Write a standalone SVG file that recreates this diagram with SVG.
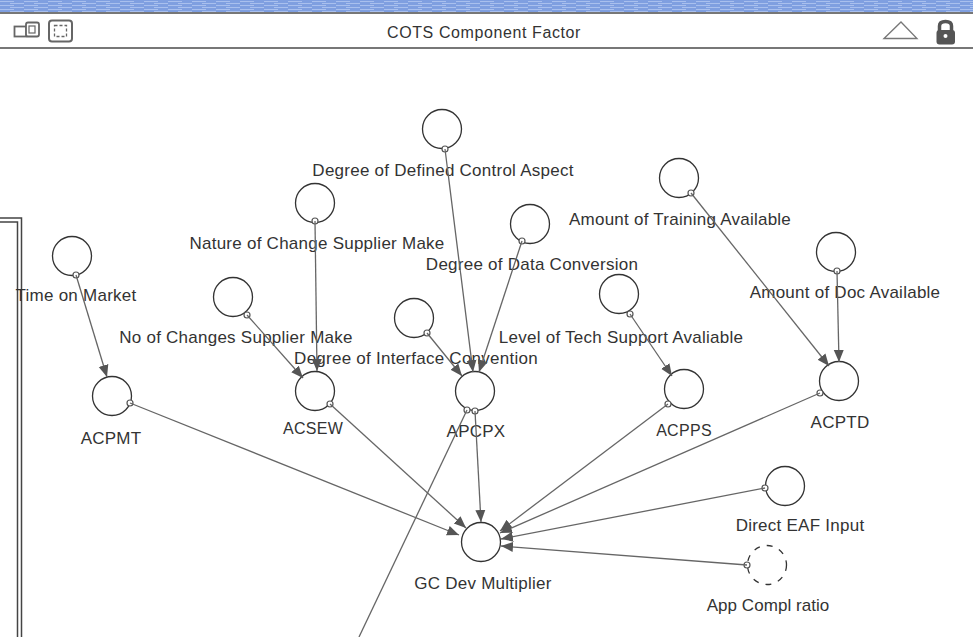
<svg xmlns="http://www.w3.org/2000/svg" width="973" height="637" viewBox="0 0 973 637">
<defs>
<pattern id="stripes" width="24" height="4" patternUnits="userSpaceOnUse"><rect width="24" height="4" fill="#7f9fe0"/><rect y="1" width="14" height="1" fill="#a9c0ee"/><rect x="10" y="3" width="14" height="1" fill="#a9c0ee"/></pattern>
<marker id="arrow" viewBox="0 0 12 12" refX="12" refY="6" markerWidth="12" markerHeight="12" markerUnits="userSpaceOnUse" orient="auto"><path d="M0 1L12 6L0 11Z" fill="#555"/></marker>
</defs>
<style>
text{font-family:"Liberation Sans",Arial,sans-serif;font-size:17px;letter-spacing:.25px;fill:#333;text-anchor:middle}
.caps{font-size:16px;letter-spacing:.3px}
.c{fill:#fff;stroke:#333;stroke-width:1.3}
.d{fill:#fff;stroke:#333;stroke-width:1.3;stroke-dasharray:6 7}
.h{fill:#fff;stroke:#555;stroke-width:1.2}
.l{fill:none;stroke:#666;stroke-width:1.3;marker-end:url(#arrow)}
.f{fill:none;stroke:#666;stroke-width:1.3}
</style>
<rect width="973" height="637" fill="#fff"/>
<g id="titlebar">
<rect width="973" height="12" fill="url(#stripes)"/>
<rect y="12" width="973" height="2" fill="#777"/>
<rect y="47" width="973" height="2" fill="#777"/>
<g fill="#fff" stroke="#666" stroke-width="1.8"><rect x="14.500" y="26.500" width="12" height="10"/><rect x="26" y="22.500" width="13" height="14" rx="2"/><rect x="29" y="26" width="6" height="7" stroke-width="1.200"/></g>
<rect x="49" y="20.500" width="23" height="21" rx="3" fill="#fff" stroke="#666" stroke-width="2"/>
<rect x="54.500" y="25.500" width="12" height="11" fill="none" stroke="#666" stroke-width="1.300" stroke-dasharray="3 2"/>
<text x="484" y="38" style="font-size:16px;letter-spacing:.6px">COTS Component Factor</text>
<path d="M884 38.500L901 22L917 38.500Z" fill="#fff" stroke="#777" stroke-width="1.300"/>
<path d="M939.500 31V26Q939.500 21.500 945.500 21.500Q951.500 21.500 951.500 26V31" fill="none" stroke="#555" stroke-width="3.500"/>
<rect x="936.500" y="30" width="18.500" height="14.500" rx="3" fill="#555"/>
<circle cx="945.500" cy="36" r="2" fill="#fff"/>
</g>
<g id="frame" fill="none" stroke="#444" stroke-width="1.500"><path d="M0 218H21.500V637"/><path d="M0 222H17.500V637"/></g>
<g id="n-defined-control"><circle class="c" cx="442" cy="129" r="19.500"/><circle class="h" cx="445" cy="149" r="3"/><text x="443" y="176">Degree of Defined Control Aspect</text></g>
<g id="n-nature"><circle class="c" cx="315" cy="203" r="19.500"/><circle class="h" cx="315" cy="221" r="3"/><text x="317" y="249">Nature of Change Supplier Make</text></g>
<g id="n-data-conv"><circle class="c" cx="530" cy="224" r="19.500"/><circle class="h" cx="522" cy="241" r="3"/><text x="532" y="270">Degree of Data Conversion</text></g>
<g id="n-training"><circle class="c" cx="679" cy="178" r="19.500"/><circle class="h" cx="691" cy="193" r="3"/><text x="680" y="225">Amount of Training Available</text></g>
<g id="n-doc"><circle class="c" cx="836" cy="252" r="19.500"/><circle class="h" cx="837" cy="271" r="3"/><text x="845" y="298">Amount of Doc Available</text></g>
<g id="n-market"><circle class="c" cx="72" cy="256" r="19.500"/><circle class="h" cx="76" cy="275" r="3"/><text x="76" y="301">Time on Market</text></g>
<g id="n-changes"><circle class="c" cx="233" cy="297" r="19.500"/><circle class="h" cx="247" cy="315" r="3"/><text x="236" y="343">No of Changes Supplier Make</text></g>
<g id="n-interface"><circle class="c" cx="414" cy="318" r="19.500"/><circle class="h" cx="427" cy="333" r="3"/><text x="416" y="364">Degree of Interface Convention</text></g>
<g id="n-tech"><circle class="c" cx="619" cy="294" r="19.500"/><circle class="h" cx="630" cy="314" r="3"/><text x="621" y="343">Level of Tech Support Avaliable</text></g>
<g id="n-acpmt"><circle class="c" cx="112" cy="396" r="19.500"/><circle class="h" cx="130" cy="403" r="3"/><text x="111" y="444">ACPMT</text></g>
<g id="n-acsew"><circle class="c" cx="315" cy="391" r="19.500"/><circle class="h" cx="330" cy="404" r="3"/><text class="caps" x="313" y="434">ACSEW</text></g>
<g id="n-apcpx"><circle class="c" cx="475" cy="391" r="19.500"/><circle class="h" cx="467" cy="410" r="3"/><circle class="h" cx="475" cy="411" r="3"/><text x="476" y="437">APCPX</text></g>
<g id="n-acpps"><circle class="c" cx="684" cy="389" r="19.500"/><circle class="h" cx="668" cy="404" r="3"/><text class="caps" x="684" y="436">ACPPS</text></g>
<g id="n-acptd"><circle class="c" cx="839" cy="381" r="19.500"/><circle class="h" cx="820" cy="393" r="3"/><text x="840" y="428">ACPTD</text></g>
<g id="n-eaf"><circle class="c" cx="785" cy="486" r="19.500"/><circle class="h" cx="765" cy="488" r="3"/><text x="800" y="531">Direct EAF Input</text></g>
<g id="n-compl"><circle class="d" cx="767" cy="565" r="19.500"/><circle class="h" cx="747" cy="565" r="3"/><text x="768" y="611" style="letter-spacing:.05px">App Compl ratio</text></g>
<g id="n-gc"><circle class="c" cx="481" cy="542" r="19.500"/><text x="483" y="589">GC Dev Multiplier</text></g>
<g id="connectors">
<path class="l" d="M445 149L473 372"/>
<path class="l" d="M315 221L317 371"/>
<path class="l" d="M522 241L479 372"/>
<path class="l" d="M691 193L829 366"/>
<path class="l" d="M837 271L839 362"/>
<path class="l" d="M76 275L107 377"/>
<path class="l" d="M247 315L303 378"/>
<path class="l" d="M427 333L462 376"/>
<path class="l" d="M630 314L672 376"/>
<path class="l" d="M130 403L459 535"/>
<path class="l" d="M330 404L466 528"/>
<path class="l" d="M475 411L481 522"/>
<path class="f" d="M467 410L359 637"/>
<path class="l" d="M668 404L500 531"/>
<path class="l" d="M820 393L500 533"/>
<path class="l" d="M765 488L501 539"/>
<path class="l" d="M747 565L501 546"/>
</g>
</svg>
